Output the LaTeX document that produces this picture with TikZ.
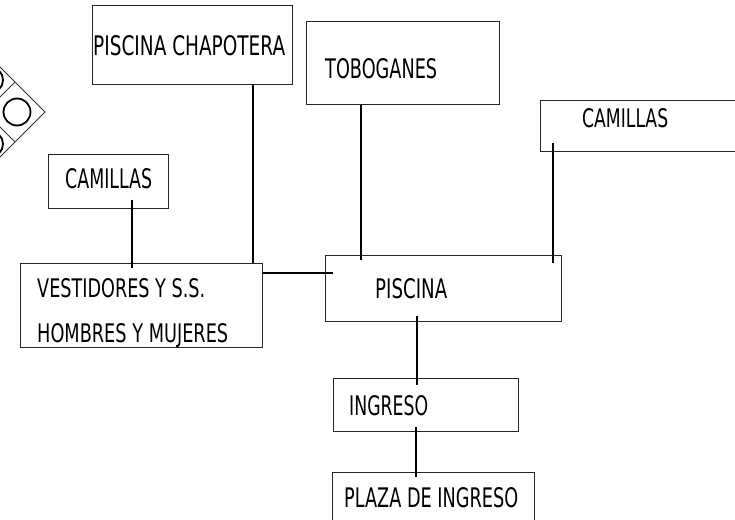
\documentclass[tikz,border=0pt]{standalone}
\usepackage{fontspec}
\setmainfont{DejaVu Sans}
\usepackage{graphicx}
\newcommand{\lbltxt}[3]{\resizebox{#1pt}{#2pt}{#3}}
\tikzset{
  box/.style={draw=black!85, line width=1pt, rectangle, inner sep=0pt},
  txt/.style={inner sep=0pt, anchor=base west, text=black},
  conn/.style={draw=black, line width=1.8pt},
  thinline/.style={draw=black!80, line width=0.9pt},
  ring/.style={draw=black, line width=1.8pt}
}
\begin{document}
\begin{tikzpicture}[x=1pt,y=-1pt]
\clip (0,0) rectangle (735,519);
\fill[white] (0,0) rectangle (735,519);

% decorative diamond at upper left
\draw[thinline] (-5,62) -- (45,112) -- (-5,162);
\draw[thinline] (15,82) -- (-5,102);
\draw[thinline] (15,142) -- (-5,122);
\draw[ring] (17,112) circle (13.5);
\draw[ring] (-10,80) circle (13);
\draw[ring] (-10,144) circle (13);

% boxes
\node[box, minimum width=200pt, minimum height=78pt] (chap) at (192,45) {};
\node[box, minimum width=193pt, minimum height=82pt] (tobo) at (402.5,63) {};
\node[box, minimum width=205pt, minimum height=51pt] (cam2) at (642.5,125.5) {};
\node[box, minimum width=120pt, minimum height=54pt] (cam1) at (108,181) {};
\node[box, minimum width=242pt, minimum height=84pt] (vest) at (141,305) {};
\node[box, minimum width=236pt, minimum height=66pt] (pisc) at (443,288) {};
\node[box, minimum width=185pt, minimum height=53pt] (ingr) at (425.5,404.5) {};
\node[box, minimum width=202pt, minimum height=63pt] (plaza) at (433,503.5) {};

% texts
\node[txt] (tchap) at (93,55) {\lbltxt{192}{20}{PISCINA CHAPOTERA}};
\node[txt] (ttobo) at (325,78) {\lbltxt{112}{20}{TOBOGANES}};
\node[txt] (tcam2) at (582,127) {\lbltxt{86}{19}{CAMILLAS}};
\node[txt] (tcam1) at (65,188) {\lbltxt{87}{20}{CAMILLAS}};
\node[txt] (tvest1) at (37,297) {\lbltxt{168}{19}{VESTIDORES Y S.S.}};
\node[txt] (tvest2) at (37,342) {\lbltxt{191}{19}{HOMBRES Y MUJERES}};
\node[txt] (tpisc) at (375,298) {\lbltxt{72}{20}{PISCINA}};
\node[txt] (tingr) at (349,415) {\lbltxt{79}{20}{INGRESO}};
\node[txt] (tplaza) at (344,507) {\lbltxt{174}{20}{PLAZA DE INGRESO}};

% connectors
\draw[conn] ([xshift=24pt,yshift=9pt]cam1.south) -- ([xshift=-9pt,yshift=-5pt]vest.north);
\draw[conn] ([xshift=61pt]chap.south) -- ([xshift=112pt]vest.north);
\draw[conn] ([yshift=32pt]vest.east) -- ([xshift=8pt,yshift=15pt]pisc.west);
\draw[conn] ([xshift=-41.5pt]tobo.south) -- ([xshift=-82pt,yshift=-5pt]pisc.north);
\draw[conn] ([xshift=-89.5pt,yshift=9pt]cam2.south) -- ([xshift=110pt,yshift=-8pt]pisc.north);
\draw[conn] ([xshift=-26pt,yshift=6pt]pisc.south) -- ([xshift=-8.5pt,yshift=-7pt]ingr.north);
\draw[conn] ([xshift=-9.5pt,yshift=5pt]ingr.south) -- ([xshift=-17pt,yshift=-5pt]plaza.north);
\end{tikzpicture}
\end{document}
